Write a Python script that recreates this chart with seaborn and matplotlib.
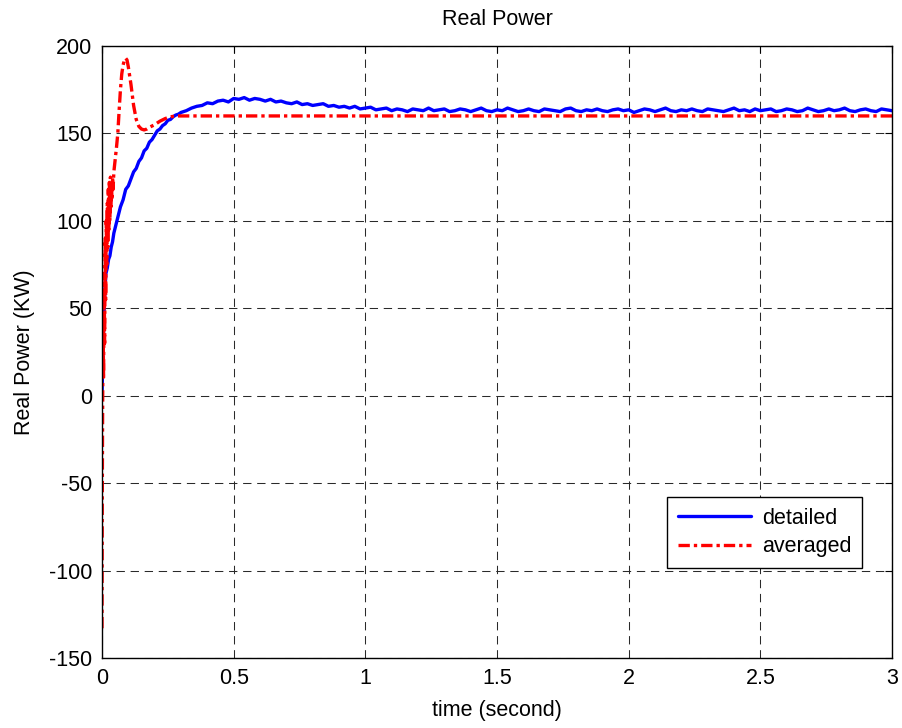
import numpy as np
import pandas as pd
import matplotlib
matplotlib.use("Agg")
import matplotlib.pyplot as plt
import seaborn as sns

# ---- data -------------------------------------------------------------
# detailed model: start-up transient (irregular sample times)
detailed_t_start = [0.000, 0.003, 0.006, 0.009, 0.012, 0.015, 0.020, 0.025,
                    0.030, 0.035, 0.040, 0.045, 0.050, 0.055, 0.060, 0.070,
                    0.080, 0.090, 0.100, 0.110, 0.120, 0.130, 0.140, 0.150,
                    0.160, 0.170, 0.180, 0.190, 0.200, 0.210, 0.220, 0.230,
                    0.240, 0.250, 0.260, 0.270, 0.280, 0.290]
detailed_p_start = [0.0, 22.0, 38.0, 54.0, 63.0, 70.0, 73.0, 78.0,
                    80.0, 85.0, 88.0, 93.0, 96.0, 99.0, 102.0, 108.0,
                    112.0, 118.0, 120.0, 124.0, 128.0, 130.0, 134.0, 136.0,
                    140.0, 141.5, 145.0, 146.5, 149.0, 151.5, 152.5, 154.5,
                    155.5, 157.5, 158.0, 159.5, 160.5, 161.0]

# detailed model: steady state, sampled every 0.02 s from 0.30 s to 3.00 s
detailed_p_steady = [
    162.0, 163.0, 164.5, 165.5, 166.0, 167.5, 167.0, 168.5, 169.0, 168.0,
    170.0, 169.5, 170.5, 169.0, 170.0, 169.5, 168.5, 169.5, 168.0, 168.5,
    167.5, 167.0, 168.0, 166.5, 167.0, 166.0, 166.5, 167.0, 165.5, 166.0,
    165.0, 165.5, 164.5, 165.5, 164.0, 164.5, 165.0, 163.5, 164.0, 164.5,
    163.0, 164.0, 163.5, 162.5, 164.0, 163.5, 163.0, 164.5, 163.0, 163.5,
    164.0, 162.5, 163.0, 164.0, 163.5, 162.5, 163.5, 164.5, 163.0, 162.5,
    163.5, 163.0, 164.5, 163.5, 162.5, 163.0, 164.0, 163.0, 162.5, 164.0,
    163.5, 163.0, 162.5, 164.0, 164.5, 163.0, 162.5, 163.5, 163.0, 164.0,
    163.0, 162.5, 163.5, 164.0, 163.0, 163.5, 162.0, 163.0, 164.0, 163.5,
    162.5, 163.5, 164.5, 163.0, 162.5, 163.5, 163.0, 164.0, 163.0, 162.5,
    164.0, 163.5, 163.0, 162.5, 163.5, 164.5, 163.0, 163.5, 162.5, 164.0,
    163.0, 163.5, 164.0, 162.5, 163.0, 164.0, 163.5, 162.5, 163.0, 164.5,
    163.5, 162.5, 163.0, 164.0, 163.0, 163.5, 164.5, 163.0, 162.5, 163.5,
    164.0, 163.0, 162.5, 164.0, 163.5, 163.0,
]

# averaged model
averaged_t = [0.000, 0.001, 0.002, 0.004, 0.006, 0.008, 0.010, 0.012, 0.014,
              0.016, 0.018, 0.020, 0.022, 0.024, 0.026, 0.028, 0.030, 0.032,
              0.034, 0.036, 0.038, 0.040, 0.042, 0.045, 0.050, 0.055, 0.060,
              0.065, 0.070, 0.075, 0.080, 0.085, 0.090, 0.095, 0.100, 0.105,
              0.110, 0.115, 0.120, 0.125, 0.130, 0.140, 0.150, 0.160, 0.170,
              0.180, 0.200, 0.220, 0.240, 0.260, 0.280, 0.300, 3.000]
averaged_p = [-133.0, -60.0, -20.0, 40.0, 10.0, 70.0, 30.0, 90.0, 55.0,
              100.0, 75.0, 110.0, 85.0, 118.0, 95.0, 122.0, 100.0, 125.0,
              108.0, 120.0, 112.0, 125.0, 118.0, 128.0, 135.0, 142.0, 150.0,
              163.0, 175.0, 184.0, 189.0, 192.0, 193.0, 192.0, 188.0, 183.0,
              178.0, 172.0, 166.0, 162.0, 158.0, 154.0, 152.5, 152.0, 152.5,
              153.5, 155.0, 157.0, 158.5, 159.5, 160.0, 160.0, 160.0]

x_ticks = [0, 0.5, 1, 1.5, 2, 2.5, 3]
x_tick_labels = ["0", "0.5", "1", "1.5", "2", "2.5", "3"]
y_ticks = [-150, -100, -50, 0, 50, 100, 150, 200]
y_tick_labels = ["-150", "-100", "-50", "0", "50", "100", "150", "200"]

# ---- assemble ---------------------------------------------------------
steady_t = np.linspace(0.30, 3.00, len(detailed_p_steady))
detailed = pd.DataFrame({
    "t": list(detailed_t_start) + list(steady_t),
    "p": list(detailed_p_start) + list(detailed_p_steady),
})
averaged = pd.DataFrame({"t": averaged_t, "p": averaged_p})

# ---- style ------------------------------------------------------------
sns.set_theme(style="white")
plt.rcParams["font.family"] = ["Liberation Sans", "DejaVu Sans"]
plt.rcParams["axes.linewidth"] = 1.0
plt.rcParams["axes.unicode_minus"] = False
plt.rcParams["text.color"] = "black"
plt.rcParams["axes.labelcolor"] = "black"

FS = 15.5
LW = 2.4
DASHDOT = [3.4, 1.2, 1.0, 1.2]

fig = plt.figure(figsize=(9.03, 7.28), dpi=100)
ax = fig.add_axes([102 / 903, 1 - 658 / 728, (892 - 102) / 903, (658 - 46) / 728])

ax.grid(True, color="#2a2a2a", linestyle=(0, (8, 5.5)), linewidth=0.75)
ax.set_axisbelow(True)

sns.lineplot(data=detailed, x="t", y="p", ax=ax, color="#0000ff",
             linewidth=LW, estimator=None, sort=False, label="detailed")
sns.lineplot(data=averaged, x="t", y="p", ax=ax, color="#ff0000",
             linewidth=LW, estimator=None, sort=False, label="averaged",
             dashes=False)
red_line = ax.get_lines()[-1]
red_line.set_dashes(DASHDOT)
red_line.set_dash_capstyle("butt")

ax.set_xlim(0, 3)
ax.set_ylim(-150, 200)
ax.set_xticks(x_ticks)
ax.set_xticklabels(x_tick_labels)
ax.set_yticks(y_ticks)
ax.set_yticklabels(y_tick_labels)
ax.tick_params(direction="in", length=5, width=0.8, top=True, right=True,
               labelsize=FS, pad=7, colors="black")
for s in ax.spines.values():
    s.set_color("black")
    s.set_visible(True)

ax.set_title("Real Power", fontsize=FS, pad=15, color="black")
ax.set_xlabel("time (second)", fontsize=FS, labelpad=8, color="black")
ax.set_ylabel("Real Power (KW)", fontsize=FS, labelpad=10, color="black")

leg = ax.legend(loc="lower right", bbox_to_anchor=(0.962, 0.147),
                borderaxespad=0, fontsize=FS, handlelength=3.4,
                frameon=True, fancybox=False, edgecolor="black",
                framealpha=1, borderpad=0.5, labelspacing=0.35,
                handletextpad=0.5)
leg.get_frame().set_linewidth(1.0)
for t in leg.get_texts():
    t.set_color("black")
for h in leg.get_lines():
    h.set_linewidth(LW)
leg.get_lines()[1].set_dashes(DASHDOT)

fig.savefig("out.png", dpi=100, facecolor="white")
